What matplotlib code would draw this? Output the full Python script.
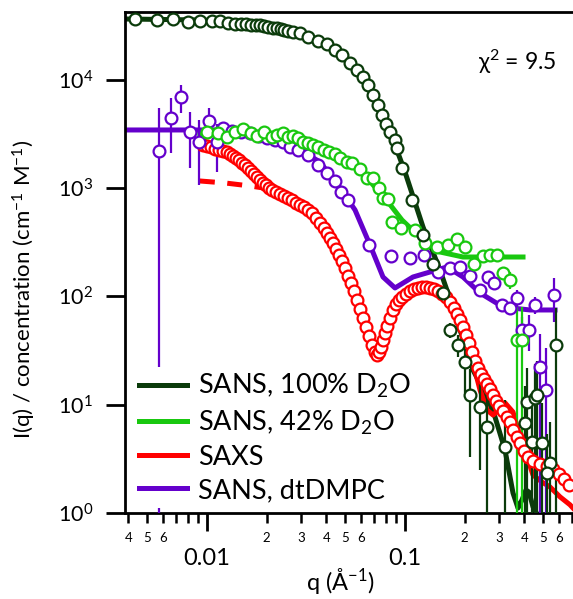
import numpy as np
import matplotlib.pyplot as plt
from matplotlib.ticker import FixedLocator, FuncFormatter, NullLocator

plt.rcParams['font.family'] = ['Lato', 'DejaVu Sans']
plt.rcParams['mathtext.fontset'] = 'custom'
plt.rcParams['mathtext.rm'] = 'Lato'
plt.rcParams['mathtext.it'] = 'Lato:italic'
plt.rcParams['mathtext.bf'] = 'Lato:bold'

# SANS, 100% D2O
q_d2o = [0.00433, 0.00559, 0.00673, 0.0080, 0.0092, 0.0106, 0.01163, 0.01277, 0.01385, 0.01485,
         0.01574, 0.01668, 0.01768, 0.01852, 0.01941, 0.02033, 0.02154, 0.02257, 0.02364, 0.02448,
         0.02566, 0.02719, 0.02949, 0.03237, 0.03636, 0.04037, 0.04431, 0.04806, 0.05276, 0.05723,
         0.06136, 0.06503, 0.06892, 0.07305, 0.07653, 0.08017, 0.08401, 0.08902, 0.09112, 0.09656,
         0.1085, 0.1233, 0.1385, 0.1556, 0.1688, 0.1852, 0.2009, 0.2130, 0.2392, 0.2595,
         0.3199, 0.4037, 0.4132, 0.4535, 0.4642, 0.4378, 0.4919, 0.5397, 0.5213, 0.5788]
I_d2o = [36060, 35290, 36060, 33810, 34530, 34530, 34530, 33450, 32750, 32750,
         32750, 32060, 32060, 32060, 31390, 30730, 30090, 30090, 29440, 28830,
         28220, 27630, 27050, 24850, 22820, 21410, 18850, 16940, 14300, 12320,
         10610, 8950, 7240, 5853, 4731, 3908, 3296, 2781, 2346, 1533,
         776, 369, 199, 107.5, 49.0, 35.6, 24.8, 12.3, 9.52, 6.22,
         4.07, 6.78, 10.6, 11.5, 12.3, 4.52, 4.43, 2.90, 2.34, 35.6]
err_d2o = [0] * 43 + [5, 8, 8, 12, 9, 7, 5.5,
                      7, 8, 11, 12, 13, 6, 6, 4, 3, 43]
fit_q_d2o = [0.003854, 0.0092, 0.01649, 0.02337, 0.02949, 0.03722, 0.04695, 0.05925, 0.07476,
             0.08902, 0.1, 0.1233, 0.1502, 0.1728, 0.1896, 0.2205, 0.2595, 0.2848, 0.3199,
             0.3511, 0.3722, 0.3898, 0.4084, 0.4228, 0.4431, 0.4695]
fit_I_d2o = [36420, 35660, 33450, 30090, 27050, 22820, 17680, 11560, 5261,
             2500, 1408, 437, 175, 83.3, 49.0, 20.9, 11.8, 7.70, 3.82,
             1.53, 1.11, 1.32, 1.63, 1.56, 1.14, 0.94]

# SANS, 42% D2O
q_42 = [0.0100, 0.01137, 0.01262, 0.01385, 0.0152, 0.01668, 0.01789, 0.01941, 0.0213, 0.02257,
        0.0242, 0.02566, 0.02719, 0.02881, 0.03053, 0.03237, 0.0343, 0.03636, 0.03898, 0.04132,
        0.04431, 0.04695, 0.05094, 0.05397, 0.05925, 0.06428, 0.06892, 0.07391, 0.07743, 0.08207,
        0.08598, 0.09546, 0.1123, 0.1262, 0.1451, 0.1649, 0.1831, 0.2009, 0.2231, 0.2477,
        0.2688, 0.2915, 0.3125, 0.3391, 0.3679, 0.3898]
I_42 = [3296, 3228, 2964, 3296, 3513, 3228, 3029, 3296, 2964, 3093,
        3228, 2964, 3029, 2901, 2666, 2609, 2500, 2396, 2248, 2154,
        2064, 1897, 1742, 1705, 1501, 1240, 1240, 1002, 810, 793,
        486, 428, 410, 311, 286, 298, 339, 286, 199, 236,
        241, 241, 164, 142, 39.6, 39.6]
err_42 = [0] * 42 + [20, 25, 40, 40]
fit_q_42 = [0.0092, 0.01468, 0.02337, 0.03313, 0.04431, 0.05925, 0.08207, 0.09656, 0.1233,
            0.1502, 0.1963, 0.3945]
fit_I_42 = [3160, 3228, 3029, 2666, 2154, 1469, 744, 507, 332, 257, 231, 231]

# SAXS
q_saxs = [0.00955, 0.0100, 0.01048, 0.01097, 0.01150, 0.01204, 0.01262, 0.01306, 0.01353, 0.01401,
          0.01451, 0.01503, 0.01556, 0.01611, 0.01668, 0.01728, 0.01789, 0.01852, 0.01918, 0.01986,
          0.02056, 0.02130, 0.02231, 0.02337, 0.02448, 0.02566, 0.02688, 0.02816, 0.02949, 0.03090,
          0.03237, 0.03391, 0.03552, 0.03722, 0.03898, 0.04037, 0.04180, 0.04329, 0.04482, 0.04642,
          0.04806, 0.04977, 0.05154, 0.05338, 0.05526, 0.05723, 0.05925, 0.06136, 0.06353, 0.06579,
          0.06813, 0.07055, 0.07222, 0.07391, 0.07565, 0.07743, 0.07925, 0.08111, 0.08401, 0.08699,
          0.09005, 0.09326, 0.09656, 0.1012, 0.1060, 0.1110, 0.1163, 0.1219, 0.1277, 0.1338,
          0.1401, 0.1468, 0.1538, 0.1611, 0.1688, 0.1768, 0.1831, 0.1896, 0.1963, 0.2033,
          0.2105, 0.2180, 0.2257, 0.2337, 0.2420, 0.2506, 0.2595, 0.2688, 0.2783, 0.2882,
          0.2984, 0.3125, 0.3274, 0.3391, 0.3511, 0.3679, 0.3809, 0.3990, 0.4180, 0.4431,
          0.4806, 0.5213, 0.5592, 0.5995, 0.6353, 0.6736]
I_saxs = [2500, 2448, 2396, 2296, 2248, 2200, 2154, 2064, 1979, 1897,
          1818, 1705, 1634, 1533, 1439, 1350, 1266, 1188, 1115, 1068,
          1002, 960, 920, 882, 845, 810, 776, 729, 698, 669,
          628, 589, 530, 476, 428, 385, 346, 311, 274, 241,
          212, 183, 154, 133, 112, 92.6, 76.5, 63.2, 52.2, 43.1,
          35.6, 30.7, 28.8, 30.7, 34.1, 39.6, 45.9, 53.3, 63.2, 74.9,
          85.1, 92.6, 98.7, 105.2, 112, 117.0, 119.6, 122.2, 122.2, 119.6,
          117.0, 112, 105.2, 98.7, 88.8, 78.1, 68.8, 60.5, 52.2, 44.0,
          37.1, 30.7, 25.3, 21.8, 19.2, 17.3, 15.5, 13.96, 12.3, 10.8,
          9.73, 8.75, 7.70, 6.92, 5.84, 5.03, 4.43, 3.74, 3.29, 3.02,
          2.83, 2.72, 2.55, 2.29, 2.06, 1.81]
fit_q_saxs_low = [0.0092, 0.01233, 0.01649, 0.0208]
fit_I_saxs_low = [1163, 1115, 1046, 981]
fit_q_saxs = [0.0208, 0.02626, 0.03313, 0.0418, 0.05276, 0.06281, 0.07137, 0.07925, 0.08902, 0.1,
              0.1191, 0.1418, 0.1592, 0.1789, 0.2056, 0.2205, 0.2392, 0.2595, 0.2783, 0.2984,
              0.3199, 0.3511, 0.3809, 0.4132, 0.4431, 0.4919, 0.5397, 0.6064, 0.6813, 0.7055]
fit_I_saxs = [981, 810, 628, 346, 142, 54.4, 28.8, 45.9, 78.1, 103,
              119.6, 114.6, 98.7, 74.9, 42.2, 24.3, 13.7, 8.93, 8.03, 8.93,
              10.4, 8.56, 5.03, 3.29, 2.24, 1.93, 1.74, 1.41, 1.19, 1.11]

# SANS, dtDMPC
q_dt = [0.005723, 0.006579, 0.007391, 0.008207, 0.009112, 0.01023, 0.01123, 0.01204, 0.01338, 0.01485,
        0.01649, 0.01831, 0.02009, 0.02205, 0.0242, 0.02626, 0.02881, 0.03237, 0.03636, 0.04037,
        0.04431, 0.0475, 0.05154, 0.06579, 0.08499, 0.1060, 0.1247, 0.1468, 0.1688, 0.1896,
        0.2130, 0.2392, 0.2626, 0.2815, 0.3090, 0.3391, 0.3679, 0.3898, 0.4228, 0.4535,
        0.4806, 0.5154, 0.5656]
I_dt = [2200, 4439, 6937, 3296, 2666, 4165, 2666, 3588, 3367, 3296,
        3228, 3029, 2901, 2781, 2666, 2396, 2248, 2021, 1634, 1378,
        1163, 920, 776, 298, 236, 226, 241, 168, 183, 187,
        154, 114.6, 151, 133, 83.3, 78.1, 96.7, 49.0, 49.0, 83.3,
        22.3, 13.7, 103]
err_dt = [3290, 2350, 2000, 1750, 1590, 1330, 1250] + [0] * 23 + \
         [10, 10, 15, 15, 8, 11, 18, 15, 18, 15, 23, 20, 45]
fit_q_dt = [0.003854, 0.01097, 0.01649, 0.02337, 0.02949, 0.03722, 0.04695, 0.05592, 0.06657,
            0.07743, 0.08902, 0.1097, 0.1338, 0.1630, 0.1963, 0.2392, 0.3125, 0.4280, 0.5723]
fit_I_dt = [3440, 3440, 3228, 2781, 2248, 1742, 1002, 628, 298,
            151, 119.6, 151, 168, 187, 151, 107.5, 79.8, 74.9, 74.9]

c_d2o, c_42, c_saxs, c_dt = '#0b3b0b', '#19c80f', '#ff0000', '#6400cc'
fitLw = 3.6


def drawData(ax, q, I, err, color):
    ax.errorbar(q, I, yerr=err, fmt='o', ms=8.5, mfc='white', mec=color, mew=1.6,
                ecolor=color, elinewidth=1.6, capsize=0, zorder=3)


def minorLabel(v, pos):
    m = int(round(v / 10 ** np.floor(np.log10(v))))
    return str(m) if 2 <= m <= 6 else ''


fig = plt.figure(figsize=(5.73, 5.99), dpi=100)
ax = fig.add_axes([0.2182, 0.1436, 0.7818, 0.8364])
ax.set_xscale('log')
ax.set_yscale('log')

ax.plot(fit_q_d2o, fit_I_d2o, color=c_d2o, lw=fitLw, label='SANS, 100% D$_2$O', zorder=2)
ax.plot(fit_q_42, fit_I_42, color=c_42, lw=fitLw, label='SANS, 42% D$_2$O', zorder=2)
ax.plot(fit_q_saxs, fit_I_saxs, color=c_saxs, lw=fitLw, label='SAXS', zorder=2)
ax.plot(fit_q_saxs_low, fit_I_saxs_low, color=c_saxs, lw=fitLw, ls=(0, (3, 2.5)), zorder=2)
ax.plot(fit_q_dt, fit_I_dt, color=c_dt, lw=fitLw, label='SANS, dtDMPC', zorder=2)

drawData(ax, q_saxs, I_saxs, None, c_saxs)
drawData(ax, q_dt, I_dt, err_dt, c_dt)
drawData(ax, q_42, I_42, err_42, c_42)
drawData(ax, q_d2o, I_d2o, err_d2o, c_d2o)

ax.set_xlim(0.003854, 0.7055)
ax.set_ylim(1, 42270)

ax.xaxis.set_major_locator(FixedLocator([0.01, 0.1]))
ax.xaxis.set_major_formatter(FuncFormatter(lambda v, pos: '%g' % v))
minors = [m * 10.0 ** e for e in (-3, -2, -1) for m in range(2, 10)]
ax.xaxis.set_minor_locator(FixedLocator(minors))
ax.xaxis.set_minor_formatter(FuncFormatter(minorLabel))
ax.yaxis.set_major_locator(FixedLocator([1, 10, 100, 1000, 10000]))
ax.yaxis.set_major_formatter(FuncFormatter(lambda v, pos: '10$^{%d}$' % round(np.log10(v))))
ax.yaxis.set_minor_locator(NullLocator())

ax.tick_params(axis='y', which='major', direction='out', length=14, width=2, labelsize=15.5, pad=9)
ax.tick_params(axis='x', which='major', direction='out', length=13, width=2, labelsize=17, pad=12)
ax.tick_params(axis='x', which='minor', direction='out', length=7, width=1.8, labelsize=9.5, pad=7)

for s in ['left', 'bottom', 'top']:
    ax.spines[s].set_linewidth(2)
ax.spines['right'].set_visible(False)

ax.set_xlabel('q (Å$^{-1}$)', fontsize=17)
ax.xaxis.set_label_coords(0.48, -0.106)
ax.set_ylabel('I(q) / concentration (cm$^{-1}$ M$^{-1}$)', fontsize=16)
ax.yaxis.set_label_coords(-0.195, 0.447)

ax.text(0.875, 0.9, 'χ$^2$ = 9.5', transform=ax.transAxes, fontsize=16.5,
        ha='center', va='center')

leg = ax.legend(loc='upper left', bbox_to_anchor=(0.018, 0.292), fontsize=19.5,
                handlelength=1.8, handletextpad=0.4, labelspacing=0.3,
                borderpad=0.2, borderaxespad=0, frameon=True, fancybox=False,
                edgecolor='none', facecolor='white', framealpha=1)

fig.savefig('out.png', dpi=100)
